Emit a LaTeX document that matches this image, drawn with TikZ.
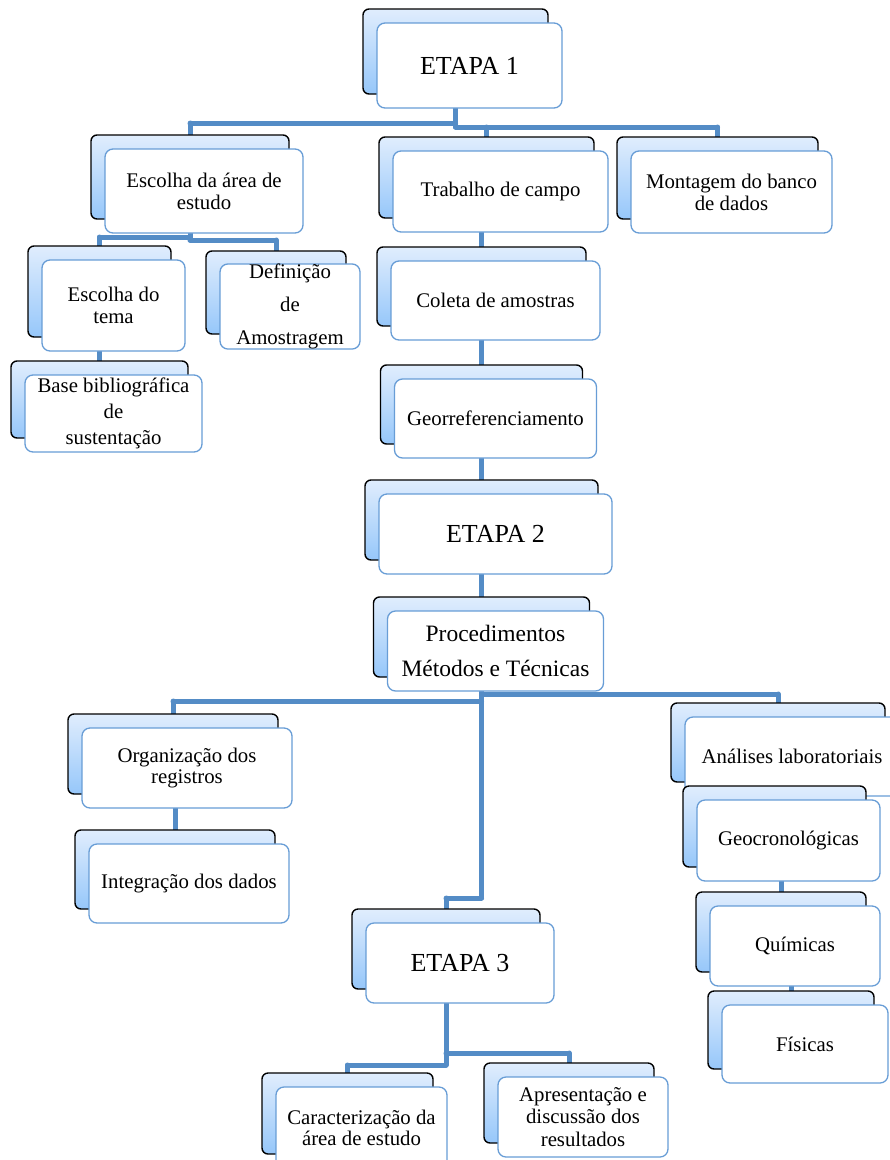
\documentclass[tikz,border=0pt]{standalone}
\usepackage{fontspec}
\setmainfont{Liberation Serif}
\usepackage{tikz}
\usetikzlibrary{backgrounds}

\definecolor{linha}{RGB}{84,140,198}
\definecolor{borda}{RGB}{104,157,214}
\definecolor{fundoTopo}{RGB}{224,237,253}
\definecolor{fundoBase}{RGB}{150,199,250}

\begin{document}
\begin{tikzpicture}[x=1pt,y=-1pt,
  fundo/.style={rounded corners=6pt, draw=black, line width=1.4pt, top color=fundoTopo, bottom color=fundoBase, inner sep=0pt},
  frente/.style={rounded corners=8pt, draw=borda, line width=1.3pt, fill=white, align=center, inner sep=0pt, font=\fontsize{20.8}{22}\selectfont},
  etapa/.style={font=\fontsize{26}{30}\selectfont}]
\useasboundingbox (0,0) rectangle (890,1160);
\clip (0,0) rectangle (890,1160);
% etapa 1
\node[fundo, minimum width=185pt, minimum height=85pt] (etapa1f) at (455.5,51.5) {};
\node[frente, etapa, minimum width=185pt, minimum height=85pt] (etapa1) at (469.5,65.5) {ETAPA 1};
\node[fundo, minimum width=198pt, minimum height=84pt] (escAreaf) at (190,177) {};
\node[frente, minimum width=198pt, minimum height=84pt] (escArea) at (204,191) {Escolha da área de\\estudo};
\node[fundo, minimum width=215pt, minimum height=81pt] (trabCampof) at (486.5,177.5) {};
\node[frente, minimum width=215pt, minimum height=81pt] (trabCampo) at (500.5,191.5) {Trabalho de campo};
\node[fundo, minimum width=201pt, minimum height=82pt] (montagemf) at (717.5,178) {};
\node[frente, minimum width=201pt, minimum height=82pt] (montagem) at (731.5,192) {Montagem do banco\\de dados};
\node[fundo, minimum width=143pt, minimum height=91pt] (escTemaf) at (99.5,291.5) {};
\node[frente, minimum width=143pt, minimum height=91pt] (escTema) at (113.5,305.5) {Escolha do\\tema};
\node[fundo, minimum width=140pt, minimum height=83pt] (defAmostf) at (276,292.5) {};
\node[frente, minimum width=140pt, minimum height=83pt, font=\fontsize{20.8}{33}\selectfont] (defAmost) at (290,306.5) {Definição\\de\\Amostragem};
\node[fundo, minimum width=177pt, minimum height=77pt] (baseBibf) at (99.5,399.5) {};
\node[frente, minimum width=177pt, minimum height=77pt, font=\fontsize{20.8}{26}\selectfont] (baseBib) at (113.5,413.5) {Base bibliográfica\\de\\sustentação};
\node[fundo, minimum width=209pt, minimum height=79pt] (coletaf) at (481.5,286.5) {};
\node[frente, minimum width=209pt, minimum height=79pt] (coleta) at (495.5,300.5) {Coleta de amostras};
\node[fundo, minimum width=202pt, minimum height=79pt] (georreff) at (481.5,404.5) {};
\node[frente, minimum width=202pt, minimum height=79pt] (georref) at (495.5,418.5) {Georreferenciamento};
% etapa 2
\node[fundo, minimum width=233pt, minimum height=80pt] (etapa2f) at (481.5,520) {};
\node[frente, etapa, minimum width=233pt, minimum height=80pt] (etapa2) at (495.5,534) {ETAPA 2};
\node[fundo, minimum width=216pt, minimum height=80pt] (procedf) at (481.5,637) {};
\node[frente, minimum width=216pt, minimum height=80pt, font=\fontsize{23.5}{35}\selectfont] (proced) at (495.5,651) {Procedimentos\\Métodos e Técnicas};
\node[fundo, minimum width=210pt, minimum height=80pt] (organizf) at (173,754) {};
\node[frente, minimum width=210pt, minimum height=80pt, font=\fontsize{20.8}{20.5}\selectfont] (organiz) at (187,768) {Organização dos\\registros};
\node[fundo, minimum width=200pt, minimum height=79pt] (integf) at (175,869.5) {};
\node[frente, minimum width=200pt, minimum height=79pt] (integ) at (189,883.5) {Integração dos dados};
\node[fundo, minimum width=214pt, minimum height=79pt] (analisesf) at (778,742.5) {};
\node[frente, minimum width=214pt, minimum height=79pt] (analises) at (792,756.5) {Análises laboratoriais};
\node[fundo, minimum width=183pt, minimum height=81pt] (geocronf) at (774.5,826.5) {};
\node[frente, minimum width=183pt, minimum height=81pt] (geocron) at (788.5,840.5) {Geocronológicas};
\node[fundo, minimum width=170pt, minimum height=80pt] (quimicasf) at (781,932) {};
\node[frente, minimum width=170pt, minimum height=80pt] (quimicas) at (795,946) {Químicas};
\node[fundo, minimum width=166pt, minimum height=78pt] (fisicasf) at (791,1030) {};
\node[frente, minimum width=166pt, minimum height=78pt] (fisicas) at (805,1044) {Físicas};
% etapa 3
\node[fundo, minimum width=188pt, minimum height=80pt] (etapa3f) at (446,949) {};
\node[frente, etapa, minimum width=188pt, minimum height=80pt] (etapa3) at (460,963) {ETAPA 3};
\node[fundo, minimum width=171pt, minimum height=81pt] (caractf) at (347.5,1113.5) {};
\node[frente, minimum width=171pt, minimum height=81pt, font=\fontsize{20.8}{21}\selectfont] (caract) at (361.5,1127.5) {Caracterização da\\área de estudo};
\node[fundo, minimum width=170pt, minimum height=80pt] (apresf) at (569,1103) {};
\node[frente, minimum width=170pt, minimum height=80pt, font=\fontsize{20.8}{22.5}\selectfont] (apres) at (583,1117) {Apresentação e\\discussão dos\\resultados};
% ligacoes
\begin{scope}[on background layer, every edge/.style={draw=linha, line width=5pt, line cap=round}]
\coordinate (jA) at (455.5,123);
\coordinate (jB) at (455.5,127);
\coordinate (jEsc) at (190,123);
\coordinate (jTrab) at (486.5,127);
\coordinate (jMont) at (717.5,127);
\coordinate (jC) at (190,237);
\coordinate (jD) at (190,240);
\coordinate (jTema) at (99.5,237);
\coordinate (jDef) at (276,240);
\coordinate (jE) at (481.5,694);
\coordinate (jF) at (481.5,701);
\coordinate (jG) at (481.5,898);
\coordinate (jAnal) at (778,694);
\coordinate (jOrg) at (173,701);
\coordinate (jEt3) at (446,898);
\coordinate (jH) at (446,1053);
\coordinate (jI) at (446,1065);
\coordinate (jApr) at (569,1053);
\coordinate (jCar) at (347.5,1065);
\path [-] (etapa1f.center)edge node {} (jB);
\path [-] (jA)edge node {} (jEsc);
\path [-] (jEsc)edge node {} (escAreaf.center);
\path [-] (jB)edge node {} (jMont);
\path [-] (jTrab)edge node {} (trabCampof.center);
\path [-] (jMont)edge node {} (montagemf.center);
\path [-] (escAreaf.center)edge node {} (jD);
\path [-] (jC)edge node {} (jTema);
\path [-] (jTema)edge node {} (escTemaf.center);
\path [-] (jD)edge node {} (jDef);
\path [-] (jDef)edge node {} (defAmostf.center);
\path [-] (escTemaf.center)edge node {} (baseBibf.center);
\path [-] (trabCampof.center -| coletaf.center)edge node {} (coletaf.center);
\path [-] (coletaf.center)edge node {} (georreff.center);
\path [-] (georreff.center)edge node {} (etapa2f.center);
\path [-] (etapa2f.center)edge node {} (procedf.center);
\path [-] (procedf.center)edge node {} (jG);
\path [-] (jE)edge node {} (jAnal);
\path [-] (jAnal)edge node {} (analisesf.center);
\path [-] (jF)edge node {} (jOrg);
\path [-] (jOrg)edge node {} (organizf.center);
\path [-] (organizf.center -| integf.center)edge node {} (integf.center);
\path [-] (geocronf.center -| quimicasf.center)edge node {} (quimicasf.center);
\path [-] (quimicasf.center -| fisicasf.center)edge node {} (fisicasf.center);
\path [-] (jG)edge node {} (jEt3);
\path [-] (jEt3)edge node {} (etapa3f.center);
\path [-] (etapa3f.center)edge node {} (jI);
\path [-] (jH)edge node {} (jApr);
\path [-] (jApr)edge node {} (apresf.center);
\path [-] (jI)edge node {} (jCar);
\path [-] (jCar)edge node {} (caractf.center);
\end{scope}
\end{tikzpicture}
\end{document}
